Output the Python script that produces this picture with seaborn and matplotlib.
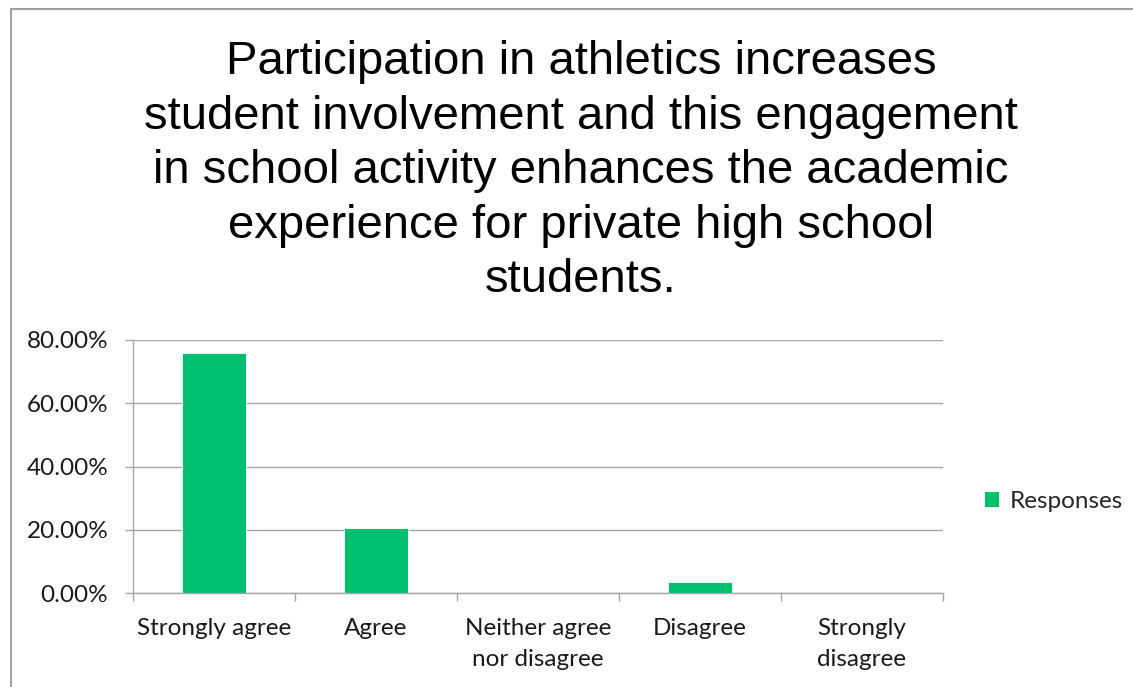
import matplotlib
matplotlib.use("Agg")
import matplotlib.pyplot as plt
import matplotlib.patches as mpatches
from matplotlib.ticker import FuncFormatter, FixedLocator
import seaborn as sns
import pandas as pd

# Survey responses (share of respondents)
categories = ["Strongly agree", "Agree", "Neither agree\nnor disagree", "Disagree", "Strongly\ndisagree"]
responses = [0.7586, 0.2069, 0.0, 0.0345, 0.0]
series_name = "Responses"
y_ticks = [0.0, 0.2, 0.4, 0.6, 0.8]
title = ("Participation in athletics increases\nstudent involvement and this engagement\n"
         "in school activity enhances the academic\nexperience for private high school\nstudents.")

df = pd.DataFrame({"category": categories, "value": responses, "series": series_name})

sns.set_theme(style="white")
plt.rcParams["font.family"] = ["Lato", "DejaVu Sans"]

W, H = 1133, 687
fig = plt.figure(figsize=(W / 100, H / 100), dpi=100)
grid_col = "#A6A6A6"
bar_col = "#00BF6F"
label_size = 17.5

# Chart-area border (top and left edges visible)
fig.patches.append(mpatches.Rectangle((11 / W, -0.05), 1.2, 1 - 9 / H + 0.05,
                                      transform=fig.transFigure, fill=False,
                                      edgecolor="#A0A0A0", linewidth=1.5))

ax = fig.add_axes([133 / W, 1 - 593 / H, (943 - 133) / W, (593 - 340) / H])
sns.barplot(data=df, x="category", y="value", hue="series", palette=[bar_col],
            width=0.4, ax=ax, edgecolor="white", linewidth=0.6, saturation=1)

ax.set_ylim(0, 0.8)
ax.set_xlim(-0.5, len(categories) - 0.5)
ax.set_yticks(y_ticks)
ax.yaxis.set_major_formatter(FuncFormatter(lambda v, _: f"{v * 100:.2f}%"))
ax.grid(axis="y", color=grid_col, linewidth=1.0)
ax.set_axisbelow(True)
ax.set_xlabel("")
ax.set_ylabel("")

for side in ["top", "right"]:
    ax.spines[side].set_visible(False)
for side in ["left", "bottom"]:
    ax.spines[side].set_color(grid_col)
    ax.spines[side].set_linewidth(1.0)

ax.tick_params(axis="y", length=5.8, width=1, color=grid_col, labelsize=label_size, pad=12,
               left=True, labelcolor="#1a1a1a")
ax.tick_params(axis="x", which="major", length=0, labelsize=label_size, pad=18, labelcolor="#1a1a1a")
ax.xaxis.set_minor_locator(FixedLocator([i - 0.5 for i in range(len(categories) + 1)]))
ax.tick_params(axis="x", which="minor", length=5.8, width=1, color=grid_col, bottom=True)
for lbl in ax.get_xticklabels():
    lbl.set_linespacing(1.6)
    lbl.set_verticalalignment("top")

sns.move_legend(ax, "center left", bbox_to_anchor=(984 / W, 1 - 501 / H),
                bbox_transform=fig.transFigure, title=None, frameon=False,
                fontsize=label_size, handlelength=0.62, handleheight=0.62, handletextpad=0.45,
                borderaxespad=0, borderpad=0)

fig.text(581 / W, 1 - 40 / H, title, ha="center", va="top", fontsize=34,
         family=["Liberation Sans", "DejaVu Sans"], linespacing=1.31, color="black")

fig.savefig("out.png", dpi=100, facecolor="white")
